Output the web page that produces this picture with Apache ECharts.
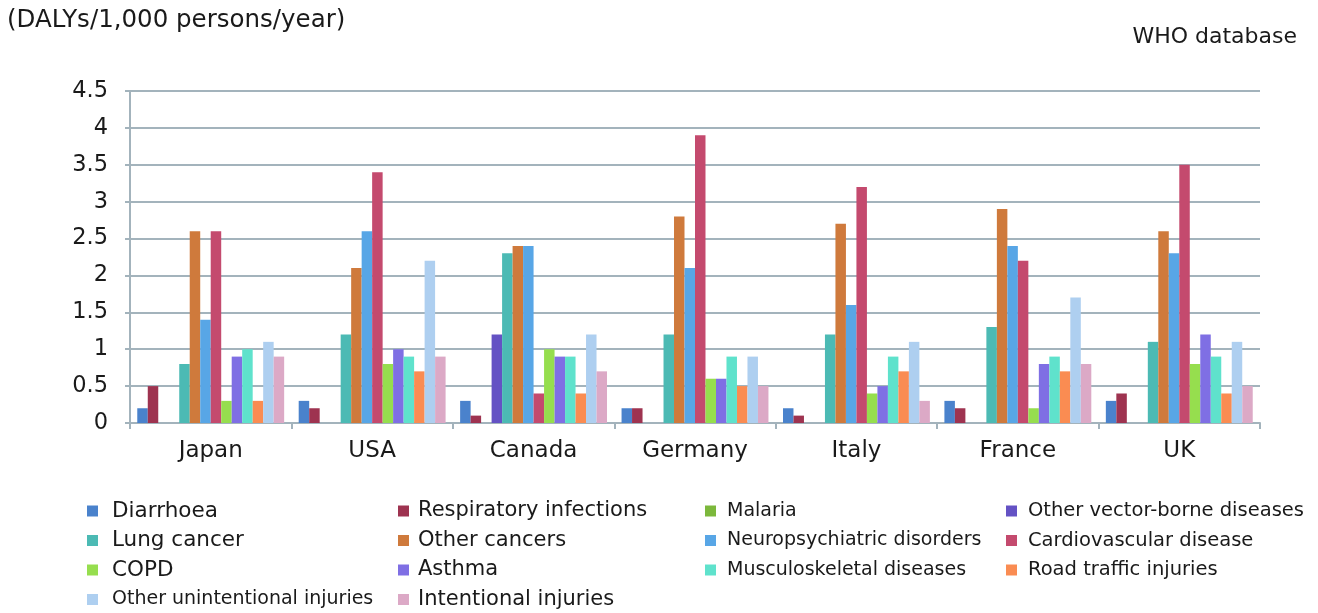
<!DOCTYPE html>
<html>
<head>
<meta charset="utf-8">
<style>
  html, body { margin: 0; padding: 0; background: #ffffff; }
  #chart { width: 1318px; height: 613px; }
</style>
<script src="https://cdn.jsdelivr.net/npm/echarts@6/dist/echarts.min.js"></script>
</head>
<body>
<div id="chart"></div>
<script>
// Countries on the category axis
const countries = ['Japan', 'USA', 'Canada', 'Germany', 'Italy', 'France', 'UK'];

// DALYs per 1,000 persons per year, one array per cause (order: countries above)
const diarrhoea            = [0.2, 0.3, 0.3, 0.2, 0.2, 0.3, 0.3];
const respiratoryInfection = [0.5, 0.2, 0.1, 0.2, 0.1, 0.2, 0.4];
const malaria              = [0, 0, 0, 0, 0, 0, 0];
const otherVectorBorne     = [0, 0, 1.2, 0, 0, 0, 0];
const lungCancer           = [0.8, 1.2, 2.3, 1.2, 1.2, 1.3, 1.1];
const otherCancers         = [2.6, 2.1, 2.4, 2.8, 2.7, 2.9, 2.6];
const neuropsychiatric     = [1.4, 2.6, 2.4, 2.1, 1.6, 2.4, 2.3];
const cardiovascular       = [2.6, 3.4, 0.4, 3.9, 3.2, 2.2, 3.5];
const copd                 = [0.3, 0.8, 1.0, 0.6, 0.4, 0.2, 0.8];
const asthma               = [0.9, 1.0, 0.9, 0.6, 0.5, 0.8, 1.2];
const musculoskeletal      = [1.0, 0.9, 0.9, 0.9, 0.9, 0.9, 0.9];
const roadTraffic          = [0.3, 0.7, 0.4, 0.5, 0.7, 0.7, 0.4];
const otherUnintentional   = [1.1, 2.2, 1.2, 0.9, 1.1, 1.7, 1.1];
const intentional          = [0.9, 0.9, 0.7, 0.5, 0.3, 0.8, 0.5];

// Value axis ticks
const yTicks = { min: 0, max: 4.5, interval: 0.5 };

const causes = [
  { name: 'Diarrhoea',                    data: diarrhoea,            color: '#4a82cc' },
  { name: 'Respiratory infections',       data: respiratoryInfection, color: '#9e3350' },
  { name: 'Malaria',                      data: malaria,              color: '#7cb83c' },
  { name: 'Other vector-borne diseases',  data: otherVectorBorne,     color: '#6452c4' },
  { name: 'Lung cancer',                  data: lungCancer,           color: '#4cbab4' },
  { name: 'Other cancers',                data: otherCancers,         color: '#cf7a3c' },
  { name: 'Neuropsychiatric disorders',   data: neuropsychiatric,     color: '#58a6e6' },
  { name: 'Cardiovascular disease',       data: cardiovascular,       color: '#c44a6e' },
  { name: 'COPD',                         data: copd,                 color: '#96de4e' },
  { name: 'Asthma',                       data: asthma,               color: '#7f6fe4' },
  { name: 'Musculoskeletal diseases',     data: musculoskeletal,      color: '#5fe2cc' },
  { name: 'Road traffic injuries',        data: roadTraffic,          color: '#fa8c52' },
  { name: 'Other unintentional injuries', data: otherUnintentional,   color: '#aecff0' },
  { name: 'Intentional injuries',         data: intentional,          color: '#dca9c6' }
];

const FONT = 'DejaVu Sans';
const TEXT = '#1a1a1a';
const AXIS = '#a3b3bc';

// Long entries are set a little tighter so every column keeps its width
const narrowNames = ['Other unintentional injuries'];

// Legend laid out as four columns, row-major like a 4-wide table
const legendCols = [
  { left: 87,   size: 21.5, gap: 9, names: [0, 4, 8, 12] },
  { left: 398,  size: 21,   gap: 4, names: [1, 5, 9, 13] },
  { left: 705,  size: 19,   gap: 6, names: [2, 6, 10] },
  { left: 1006, size: 19.5, gap: 6, names: [3, 7, 11] }
];

const legends = legendCols.map(c => ({
  orient: 'vertical',
  left: c.left,
  top: 500,
  itemWidth: 11,
  itemHeight: 11,
  itemGap: 7.5,
  icon: 'rect',
  selectedMode: false,
  padding: 0,
  data: c.names.map(i => causes[i].name),
  formatter: name => narrowNames.includes(name) ? '{n|' + name + '}' : name,
  textStyle: {
    fontFamily: FONT,
    fontSize: c.size,
    color: TEXT,
    lineHeight: 22,
    padding: [0, 0, 0, c.gap],
    rich: {
      n: { fontFamily: FONT, fontSize: 19, color: TEXT, lineHeight: 22 }
    }
  }
}));

const chart = echarts.init(document.getElementById('chart'), null, { renderer: 'canvas' });

chart.setOption({
  backgroundColor: '#ffffff',
  animation: false,
  title: [
    {
      text: '(DALYs/1,000 persons/year)',
      left: 7, top: 8, padding: 0,
      textStyle: { fontFamily: FONT, fontSize: 24.5, fontWeight: 'normal', color: TEXT }
    },
    {
      text: 'WHO database',
      right: 21, top: 26, padding: 0,
      textStyle: { fontFamily: FONT, fontSize: 22, fontWeight: 'normal', color: TEXT }
    }
  ],
  legend: legends,
  grid: { left: 130, right: 58, top: 91, bottom: 190, containLabel: false },
  xAxis: {
    type: 'category',
    data: countries,
    axisLine: { show: true, lineStyle: { color: AXIS, width: 2 } },
    axisTick: { show: true, length: 6, lineStyle: { color: AXIS, width: 2 } },
    axisLabel: { margin: 17, fontFamily: FONT, fontSize: 23, color: TEXT }
  },
  yAxis: {
    type: 'value',
    min: yTicks.min,
    max: yTicks.max,
    interval: yTicks.interval,
    axisLine: { show: true, lineStyle: { color: AXIS, width: 2 } },
    axisTick: { show: true, length: 5, lineStyle: { color: AXIS, width: 2 } },
    axisLabel: { margin: 22, fontFamily: FONT, fontSize: 22.5, color: TEXT },
    splitLine: { show: true, lineStyle: { color: AXIS, width: 2 } }
  },
  series: causes.map(c => ({
    type: 'bar',
    name: c.name,
    data: c.data,
    barGap: '0%',
    barCategoryGap: '9%',
    itemStyle: { color: c.color },
    emphasis: { disabled: true }
  }))
});
</script>
</body>
</html>
